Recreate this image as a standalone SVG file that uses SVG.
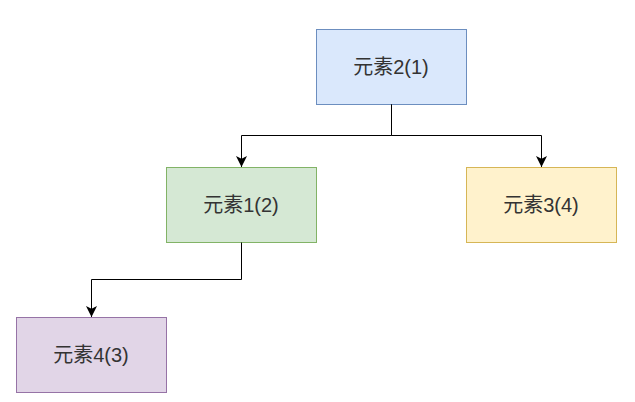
<svg xmlns="http://www.w3.org/2000/svg" width="635" height="402" viewBox="0 0 635 402">
<defs>
<marker id="arr" markerWidth="11" markerHeight="11" viewBox="0 0 10 10" refX="10" refY="5" orient="auto" markerUnits="userSpaceOnUse">
<path d="M0,0 L10,5 L0,10 L2.5,5 Z" fill="#000"/>
</marker>
</defs>
<style>
rect{stroke-width:1}
text{font-family:"Liberation Sans","Noto Sans CJK SC",sans-serif;font-size:20px;fill:#333;text-anchor:middle}
.c{fill:none;stroke:#000;stroke-width:1}
</style>
<rect width="635" height="402" fill="#fff"/>
<g id="n2">
<rect x="316.5" y="29.5" width="150" height="75" fill="#dae8fc" stroke="#6c8ebf"/>
<text x="391" y="74">元素2(1)</text>
</g>
<g id="n1">
<rect x="166.5" y="167.5" width="150" height="75" fill="#d5e8d4" stroke="#82b366"/>
<text x="241" y="212">元素1(2)</text>
</g>
<g id="n3">
<rect x="466.5" y="167.5" width="150" height="75" fill="#fff2cc" stroke="#d6b656"/>
<text x="541" y="212">元素3(4)</text>
</g>
<g id="n4">
<rect x="16.5" y="317.5" width="150" height="75" fill="#e1d5e7" stroke="#9673a6"/>
<text x="91" y="362">元素4(3)</text>
</g>
<g id="connectors">
<path class="c" d="M391.5,104.5 V135.5 H241.5 V167" marker-end="url(#arr)"/>
<path class="c" d="M391.5,104.5 V135.5 H541.5 V167" marker-end="url(#arr)"/>
<path class="c" d="M241.5,242.5 V279.5 H91.5 V317" marker-end="url(#arr)"/>
</g>
</svg>
